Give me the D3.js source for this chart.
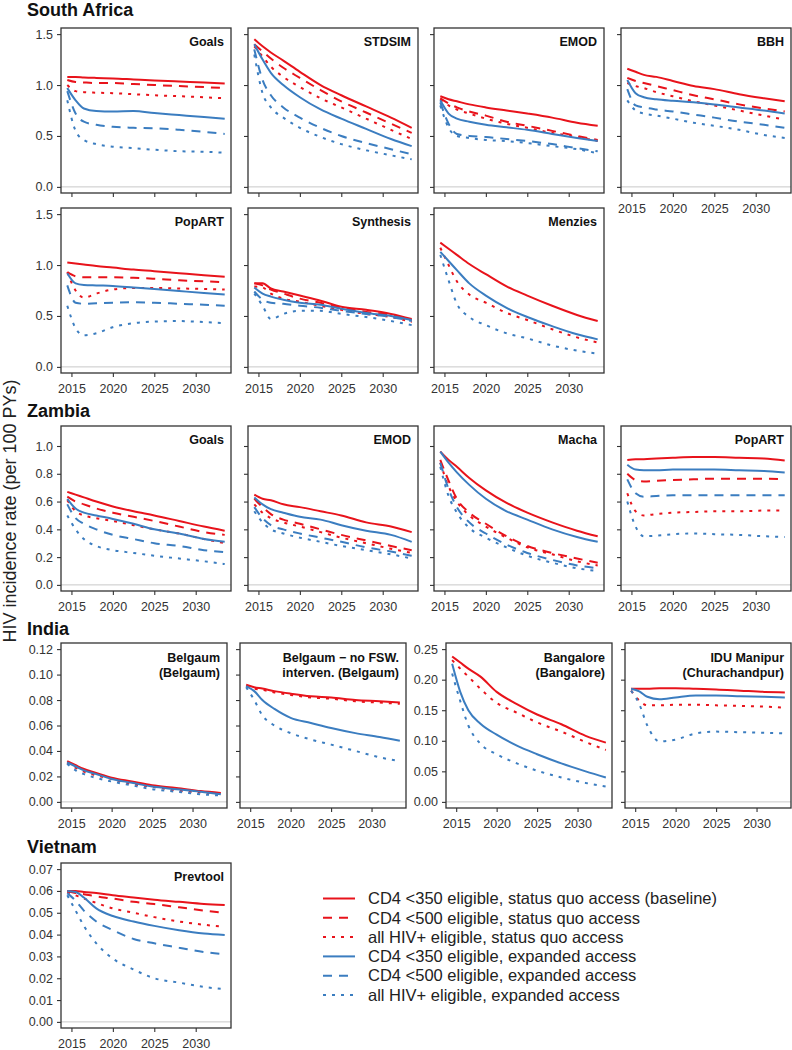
<!DOCTYPE html>
<html>
<head>
<meta charset="utf-8">
<script src="https://cdn.jsdelivr.net/npm/d3@7"></script>
<style>
  body { margin: 0; background: #fff; }
  svg { display: block; font-family: "Liberation Sans", Arial, sans-serif; }
</style>
</head>
<body>
<svg id="chart" width="792" height="1050"></svg>
<script>
// time points of each projection (mid-year)
var years = [2014.5, 2015.5, 2016.5, 2018, 2020, 2022.5, 2025, 2028, 2031, 2033.5];
var xTicks = [2015, 2020, 2025, 2030];

var scenarios = [
	"CD4 <350 eligible, status quo access (baseline)",
	"CD4 <500 eligible, status quo access",
	"all HIV+ eligible, status quo access",
	"CD4 <350 eligible, expanded access",
	"CD4 <500 eligible, expanded access",
	"all HIV+ eligible, expanded access"
];

// series order in every panel follows scenarios; null = not modelled
var saGoals = [
	[1.08, 1.08, 1.075, 1.07, 1.065, 1.055, 1.045, 1.035, 1.025, 1.015],
	[1.05, 1.03, 1.025, 1.02, 1.02, 1.01, 1.0, 0.99, 0.98, 0.97],
	[1.0, 0.94, 0.93, 0.925, 0.92, 0.91, 0.9, 0.89, 0.88, 0.87],
	[0.97, 0.85, 0.77, 0.745, 0.74, 0.745, 0.725, 0.705, 0.685, 0.67],
	[0.94, 0.72, 0.64, 0.61, 0.59, 0.58, 0.575, 0.56, 0.54, 0.52],
	[0.85, 0.55, 0.46, 0.42, 0.395, 0.38, 0.365, 0.35, 0.345, 0.335]
];
var saStdsim = [
	[1.45, 1.38, 1.32, 1.24, 1.13, 1.0, 0.9, 0.79, 0.68, 0.58],
	[1.40, 1.33, 1.26, 1.17, 1.07, 0.95, 0.84, 0.73, 0.62, 0.53],
	[1.38, 1.28, 1.18, 1.08, 0.98, 0.87, 0.78, 0.67, 0.56, 0.47],
	[1.40, 1.25, 1.12, 1.0, 0.88, 0.76, 0.67, 0.57, 0.47, 0.40],
	[1.35, 1.05, 0.90, 0.78, 0.68, 0.58, 0.50, 0.43, 0.37, 0.32],
	[1.30, 0.92, 0.78, 0.68, 0.58, 0.49, 0.42, 0.36, 0.31, 0.27]
];
var saEmod = [
	[0.89, 0.86, 0.84, 0.81, 0.78, 0.75, 0.72, 0.68, 0.63, 0.60],
	[0.87, 0.82, 0.78, 0.74, 0.70, 0.64, 0.60, 0.55, 0.50, 0.46],
	[0.86, 0.80, 0.76, 0.72, 0.67, 0.62, 0.58, 0.53, 0.49, 0.45],
	[0.85, 0.72, 0.67, 0.64, 0.61, 0.585, 0.56, 0.52, 0.48, 0.45],
	[0.83, 0.62, 0.52, 0.50, 0.49, 0.47, 0.45, 0.42, 0.38, 0.35],
	[0.80, 0.58, 0.50, 0.48, 0.46, 0.45, 0.43, 0.40, 0.37, 0.33]
];
var saBbh = [
	[1.16, 1.13, 1.10, 1.08, 1.04, 0.99, 0.96, 0.91, 0.87, 0.84],
	[1.07, 1.04, 1.02, 0.99, 0.95, 0.90, 0.86, 0.81, 0.77, 0.74],
	[1.02, 0.99, 0.97, 0.93, 0.89, 0.84, 0.80, 0.75, 0.70, 0.66],
	[1.05, 0.92, 0.88, 0.86, 0.845, 0.83, 0.81, 0.78, 0.75, 0.72],
	[0.96, 0.80, 0.78, 0.76, 0.74, 0.71, 0.68, 0.64, 0.61, 0.58],
	[0.85, 0.75, 0.72, 0.70, 0.67, 0.63, 0.60, 0.56, 0.51, 0.48]
];
var saPopart = [
	[1.025, 1.015, 1.005, 0.99, 0.975, 0.955, 0.94, 0.92, 0.90, 0.885],
	[0.93, 0.89, 0.88, 0.88, 0.88, 0.875, 0.865, 0.85, 0.84, 0.83],
	[0.93, 0.75, 0.68, 0.72, 0.76, 0.775, 0.775, 0.77, 0.765, 0.76],
	[0.92, 0.82, 0.805, 0.80, 0.795, 0.78, 0.765, 0.745, 0.725, 0.71],
	[0.80, 0.63, 0.62, 0.625, 0.63, 0.635, 0.63, 0.62, 0.61, 0.60],
	[0.60, 0.38, 0.31, 0.33, 0.39, 0.43, 0.445, 0.45, 0.44, 0.43]
];
var saSynthesis = [
	[0.82, 0.82, 0.77, 0.74, 0.70, 0.65, 0.59, 0.56, 0.52, 0.47],
	[0.82, 0.80, 0.76, 0.72, 0.67, 0.63, 0.58, 0.54, 0.51, 0.46],
	[0.79, 0.78, 0.72, 0.67, 0.64, 0.60, 0.56, 0.52, 0.49, 0.44],
	[0.78, 0.72, 0.69, 0.66, 0.63, 0.61, 0.57, 0.53, 0.50, 0.46],
	[0.74, 0.66, 0.63, 0.62, 0.60, 0.58, 0.55, 0.52, 0.49, 0.45],
	[0.72, 0.60, 0.47, 0.52, 0.55, 0.55, 0.52, 0.49, 0.45, 0.41]
];
var saMenzies = [
	[1.22, 1.16, 1.10, 1.01, 0.91, 0.79, 0.70, 0.60, 0.51, 0.45],
	null,
	[1.17, 1.00, 0.84, 0.71, 0.63, 0.53, 0.46, 0.37, 0.29, 0.24],
	[1.13, 1.04, 0.95, 0.82, 0.70, 0.58, 0.49, 0.40, 0.32, 0.27],
	null,
	[1.10, 0.85, 0.62, 0.49, 0.41, 0.33, 0.28, 0.21, 0.16, 0.13]
];
var zmGoals = [
	[0.67, 0.65, 0.63, 0.60, 0.565, 0.53, 0.50, 0.46, 0.42, 0.39],
	[0.635, 0.60, 0.58, 0.55, 0.52, 0.49, 0.46, 0.42, 0.38, 0.36],
	[0.61, 0.53, 0.50, 0.48, 0.46, 0.43, 0.40, 0.37, 0.33, 0.30],
	[0.62, 0.55, 0.52, 0.50, 0.475, 0.44, 0.40, 0.37, 0.33, 0.31],
	[0.58, 0.48, 0.44, 0.40, 0.36, 0.33, 0.30, 0.28, 0.25, 0.235],
	[0.50, 0.40, 0.33, 0.28, 0.25, 0.23, 0.21, 0.19, 0.17, 0.15]
];
var zmEmod = [
	[0.65, 0.62, 0.61, 0.58, 0.56, 0.53, 0.50, 0.45, 0.42, 0.38],
	[0.62, 0.56, 0.51, 0.47, 0.44, 0.40, 0.36, 0.32, 0.28, 0.25],
	[0.58, 0.52, 0.48, 0.45, 0.42, 0.38, 0.34, 0.30, 0.26, 0.23],
	[0.63, 0.58, 0.545, 0.52, 0.49, 0.47, 0.43, 0.39, 0.36, 0.31],
	[0.56, 0.48, 0.43, 0.40, 0.37, 0.34, 0.31, 0.27, 0.24, 0.21],
	[0.53, 0.45, 0.40, 0.37, 0.34, 0.31, 0.28, 0.25, 0.22, 0.19]
];
var zmMacha = [
	[0.96, 0.90, 0.85, 0.77, 0.68, 0.59, 0.52, 0.45, 0.39, 0.35],
	[0.90, 0.75, 0.62, 0.52, 0.44, 0.35, 0.28, 0.23, 0.19, 0.16],
	[0.88, 0.71, 0.60, 0.50, 0.42, 0.34, 0.27, 0.22, 0.17, 0.14],
	[0.96, 0.88, 0.81, 0.72, 0.62, 0.53, 0.47, 0.40, 0.345, 0.31],
	[0.88, 0.69, 0.56, 0.45, 0.37, 0.29, 0.23, 0.18, 0.14, 0.12],
	[0.85, 0.64, 0.52, 0.41, 0.34, 0.27, 0.21, 0.16, 0.12, 0.10]
];
var zmPopart = [
	[0.90, 0.905, 0.905, 0.91, 0.915, 0.92, 0.92, 0.915, 0.91, 0.895],
	[0.80, 0.755, 0.745, 0.75, 0.755, 0.76, 0.765, 0.765, 0.765, 0.76],
	[0.66, 0.53, 0.50, 0.51, 0.52, 0.525, 0.53, 0.53, 0.535, 0.535],
	[0.865, 0.83, 0.825, 0.825, 0.83, 0.83, 0.83, 0.825, 0.82, 0.81],
	[0.76, 0.66, 0.635, 0.64, 0.645, 0.645, 0.645, 0.645, 0.645, 0.645],
	[0.60, 0.42, 0.35, 0.355, 0.365, 0.37, 0.365, 0.36, 0.35, 0.345]
];
var inBelgaum = [
	[0.032, 0.029, 0.026, 0.023, 0.019, 0.016, 0.013, 0.011, 0.0085, 0.007],
	null,
	[0.031, 0.027, 0.024, 0.021, 0.018, 0.014, 0.012, 0.009, 0.0075, 0.0065],
	[0.031, 0.028, 0.025, 0.022, 0.018, 0.015, 0.012, 0.010, 0.008, 0.006],
	null,
	[0.030, 0.025, 0.022, 0.019, 0.016, 0.013, 0.010, 0.008, 0.006, 0.005]
];
var inBelgaumNoFsw = [
	[0.092, 0.090, 0.089, 0.087, 0.085, 0.083, 0.082, 0.080, 0.079, 0.078],
	null,
	[0.091, 0.089, 0.088, 0.086, 0.084, 0.082, 0.081, 0.079, 0.078, 0.077],
	[0.091, 0.087, 0.080, 0.073, 0.066, 0.062, 0.058, 0.054, 0.051, 0.048],
	null,
	[0.090, 0.080, 0.068, 0.060, 0.054, 0.049, 0.045, 0.040, 0.035, 0.032]
];
var inBangalore = [
	[0.238, 0.228, 0.218, 0.205, 0.18, 0.16, 0.143, 0.127, 0.108, 0.097],
	null,
	[0.232, 0.218, 0.205, 0.185, 0.162, 0.146, 0.130, 0.115, 0.098, 0.085],
	[0.226, 0.18, 0.15, 0.128, 0.11, 0.092, 0.078, 0.063, 0.05, 0.04],
	null,
	[0.21, 0.165, 0.125, 0.095, 0.078, 0.063, 0.051, 0.040, 0.031, 0.025]
];
var inManipur = [
	[0.185, 0.185, 0.185, 0.186, 0.186, 0.185, 0.184, 0.182, 0.180, 0.179],
	null,
	[0.182, 0.166, 0.158, 0.158, 0.159, 0.159, 0.158, 0.157, 0.156, 0.154],
	[0.185, 0.181, 0.172, 0.168, 0.171, 0.174, 0.174, 0.173, 0.172, 0.171],
	null,
	[0.182, 0.160, 0.125, 0.099, 0.102, 0.112, 0.115, 0.114, 0.113, 0.112]
];
var vnPrevtool = [
	[0.060, 0.060, 0.0595, 0.059, 0.058, 0.057, 0.056, 0.055, 0.054, 0.0535],
	[0.060, 0.059, 0.0585, 0.0575, 0.0565, 0.055, 0.054, 0.0525, 0.051, 0.050],
	[0.0595, 0.058, 0.0565, 0.0545, 0.052, 0.050, 0.048, 0.046, 0.0445, 0.0435],
	[0.060, 0.0595, 0.057, 0.052, 0.0485, 0.046, 0.044, 0.042, 0.0405, 0.0398],
	[0.059, 0.0555, 0.051, 0.046, 0.042, 0.038, 0.036, 0.034, 0.032, 0.031],
	[0.058, 0.051, 0.044, 0.036, 0.029, 0.024, 0.020, 0.018, 0.016, 0.015]
];

var saTicks = [0, 0.5, 1.0, 1.5];
var zmTicks = [0, 0.2, 0.4, 0.6, 0.8, 1.0];
var belgaumTicks = [0, 0.02, 0.04, 0.06, 0.08, 0.10, 0.12];
var bangaloreTicks = [0, 0.05, 0.10, 0.15, 0.20, 0.25];
var vnTicks = [0, 0.01, 0.02, 0.03, 0.04, 0.05, 0.06, 0.07];

// ---- styles / layout ----
var RED = "#e8131b", BLUE = "#3b7dc0";
var lineColor = [RED, RED, RED, BLUE, BLUE, BLUE];
var lineDash = [null, "9,7", "3,6", null, "9,7", "3,6"];

var svg = d3.select("#chart");
var W = 170, H = 165, Wi = 166;
var colLeft = [61, 248, 434, 621];
var indLeft = [61, 240, 446, 625];

var panels = [
	{ label: ["Goals"], data: saGoals, top: 28, left: colLeft[0], w: W, ymax: 1.5, ticks: saTicks, fmt: ".1f", yl: true, xl: false },
	{ label: ["STDSIM"], data: saStdsim, top: 28, left: colLeft[1], w: W, ymax: 1.5, ticks: saTicks, fmt: ".1f", yl: false, xl: false },
	{ label: ["EMOD"], data: saEmod, top: 28, left: colLeft[2], w: W, ymax: 1.5, ticks: saTicks, fmt: ".1f", yl: false, xl: false },
	{ label: ["BBH"], data: saBbh, top: 28, left: colLeft[3], w: W, ymax: 1.5, ticks: saTicks, fmt: ".1f", yl: false, xl: true },
	{ label: ["PopART"], data: saPopart, top: 208, left: colLeft[0], w: W, ymax: 1.5, ticks: saTicks, fmt: ".1f", yl: true, xl: true },
	{ label: ["Synthesis"], data: saSynthesis, top: 208, left: colLeft[1], w: W, ymax: 1.5, ticks: saTicks, fmt: ".1f", yl: false, xl: true },
	{ label: ["Menzies"], data: saMenzies, top: 208, left: colLeft[2], w: W, ymax: 1.5, ticks: saTicks, fmt: ".1f", yl: false, xl: true },
	{ label: ["Goals"], data: zmGoals, top: 426, left: colLeft[0], w: W, ymax: 1.1, ticks: zmTicks, fmt: ".1f", yl: true, xl: true },
	{ label: ["EMOD"], data: zmEmod, top: 426, left: colLeft[1], w: W, ymax: 1.1, ticks: zmTicks, fmt: ".1f", yl: false, xl: true },
	{ label: ["Macha"], data: zmMacha, top: 426, left: colLeft[2], w: W, ymax: 1.1, ticks: zmTicks, fmt: ".1f", yl: false, xl: true },
	{ label: ["PopART"], data: zmPopart, top: 426, left: colLeft[3], w: W, ymax: 1.1, ticks: zmTicks, fmt: ".1f", yl: false, xl: true },
	{ label: ["Belgaum", "(Belgaum)"], data: inBelgaum, top: 643, left: indLeft[0], w: Wi, ymax: 0.12, ticks: belgaumTicks, fmt: ".2f", yl: true, xl: true },
	{ label: ["Belgaum \u2212 no FSW.", "interven. (Belgaum)"], data: inBelgaumNoFsw, top: 643, left: indLeft[1], w: Wi, ymax: 0.12, ticks: belgaumTicks, fmt: ".2f", yl: false, xl: true },
	{ label: ["Bangalore", "(Bangalore)"], data: inBangalore, top: 643, left: indLeft[2], w: Wi, ymax: 0.25, ticks: bangaloreTicks, fmt: ".2f", yl: true, xl: true },
	{ label: ["IDU Manipur", "(Churachandpur)"], data: inManipur, top: 643, left: indLeft[3], w: Wi, ymax: 0.25, ticks: bangaloreTicks, fmt: ".2f", yl: false, xl: true },
	{ label: ["Prevtool"], data: vnPrevtool, top: 863, left: colLeft[0], w: W, ymax: 0.07, ticks: vnTicks, fmt: ".2f", yl: true, xl: true }
];

var regions = [
	{ name: "South Africa", y: 15.5 },
	{ name: "Zambia", y: 417 },
	{ name: "India", y: 635 },
	{ name: "Vietnam", y: 853 }
];

regions.forEach(function(r) {
	svg.append("text")
		.attr("x", 27)
		.attr("y", r.y)
		.attr("font-size", 18)
		.attr("font-weight", "bold")
		.attr("fill", "#111")
		.text(r.name);
});

svg.append("text")
	.attr("transform", "translate(16,511) rotate(-90)")
	.attr("text-anchor", "middle")
	.attr("font-size", 18)
	.attr("fill", "#222")
	.text("HIV incidence rate (per 100 PYs)");

// R style 4% axis extension
var xPad = (2033.5 - 2014.5) * 0.04;

panels.forEach(function(p) {
	var x = d3.scaleLinear()
		.domain([2014.5 - xPad, 2033.5 + xPad])
		.range([p.left, p.left + p.w]);
	var y = d3.scaleLinear()
		.domain([-p.ymax * 0.04, p.ymax * 1.04])
		.range([p.top + H, p.top]);

	var g = svg.append("g");

	// zero reference line
	g.append("line")
		.attr("x1", p.left).attr("x2", p.left + p.w)
		.attr("y1", y(0)).attr("y2", y(0))
		.attr("stroke", "#c8c8c8")
		.attr("stroke-width", 1);

	var fmt = d3.format(p.fmt);
	var yAxis = d3.axisLeft(y)
		.tickValues(p.ticks)
		.tickSize(4)
		.tickPadding(4)
		.tickFormat(p.yl ? fmt : function() { return ""; });
	var gy = g.append("g")
		.attr("transform", "translate(" + p.left + ",0)")
		.call(yAxis);

	var xAxis = d3.axisBottom(x)
		.tickValues(xTicks)
		.tickSize(4)
		.tickPadding(7)
		.tickFormat(p.xl ? d3.format("d") : function() { return ""; });
	var gx = g.append("g")
		.attr("transform", "translate(0," + (p.top + H) + ")")
		.call(xAxis);

	[gx, gy].forEach(function(a) {
		a.select(".domain").remove();
		a.selectAll(".tick line").attr("stroke", "#333").attr("stroke-width", 1.1);
		a.selectAll(".tick text")
			.attr("fill", "#333")
			.attr("font-size", 12.5)
			.attr("font-family", "Liberation Sans, Arial, sans-serif");
	});

	var line = d3.line()
		.x(function(d, i) { return x(years[i]); })
		.y(function(d) { return y(d); })
		.curve(d3.curveMonotoneX);

	p.data.forEach(function(s, k) {
		if (!s) return;
		g.append("path")
			.datum(s)
			.attr("d", line)
			.attr("fill", "none")
			.attr("stroke", lineColor[k])
			.attr("stroke-width", 2)
			.attr("stroke-dasharray", lineDash[k]);
	});

	g.append("rect")
		.attr("x", p.left).attr("y", p.top)
		.attr("width", p.w).attr("height", H)
		.attr("fill", "none")
		.attr("stroke", "#333")
		.attr("stroke-width", 1.3);

	p.label.forEach(function(t, i) {
		g.append("text")
			.attr("x", p.left + p.w - 7)
			.attr("y", p.top + (p.label.length > 1 ? 18.5 : 17.5) + i * 15)
			.attr("text-anchor", "end")
			.attr("font-size", 12.5)
			.attr("font-weight", "bold")
			.attr("fill", "#111")
			.text(t);
	});
});

// legend
var legend = svg.append("g");
scenarios.forEach(function(name, i) {
	var ly = 898.5 + i * 19.3;
	legend.append("line")
		.attr("x1", 323).attr("x2", 355)
		.attr("y1", ly).attr("y2", ly)
		.attr("stroke", lineColor[i])
		.attr("stroke-width", 2)
		.attr("stroke-dasharray", lineDash[i]);
	legend.append("text")
		.attr("x", 368)
		.attr("y", ly)
		.attr("dy", "0.35em")
		.attr("font-size", 16.5)
		.attr("fill", "#222")
		.text(name);
});
</script>
</body>
</html>
